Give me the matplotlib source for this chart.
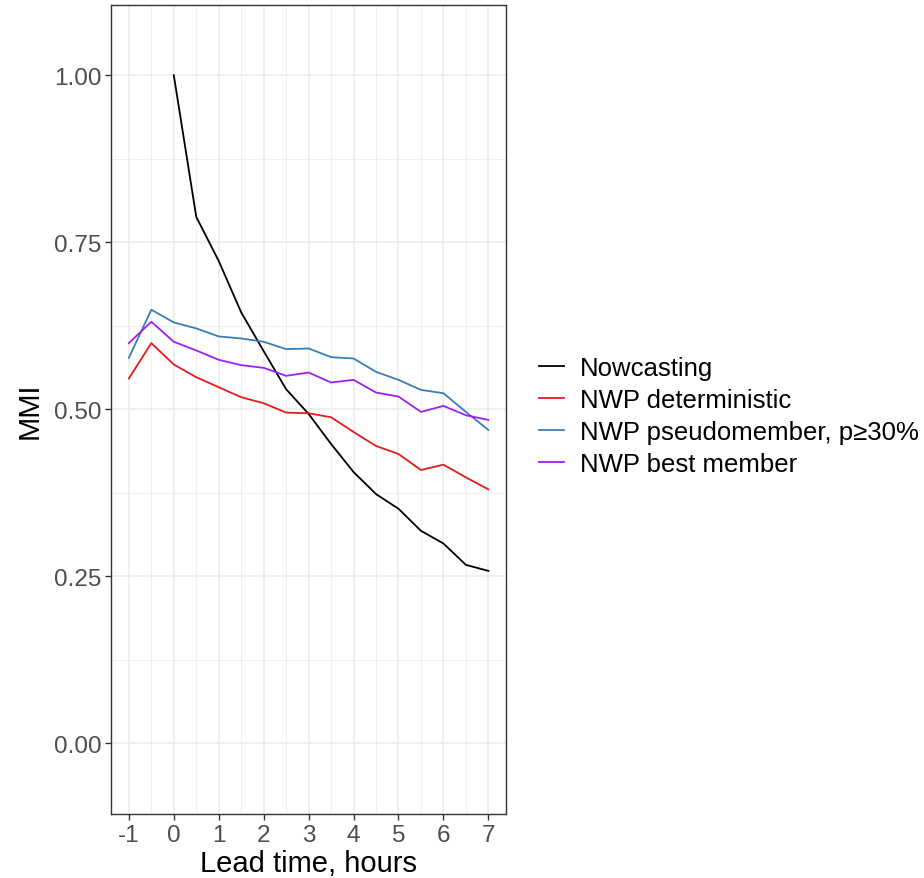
import numpy as np
import matplotlib
matplotlib.use("Agg")
import matplotlib.pyplot as plt
from matplotlib.ticker import MultipleLocator

plt.rcParams['font.family'] = ['Liberation Sans', 'DejaVu Sans']

lead_time = [-1, -0.5, 0, 0.5, 1, 1.5, 2, 2.5, 3, 3.5, 4, 4.5, 5, 5.5, 6, 6.5, 7]

# nowcasting starts at lead time 0
nowcast_time = [0, 0.5, 1, 1.5, 2, 2.5, 3, 3.5, 4, 4.5, 5, 5.5, 6, 6.5, 7]
nowcasting = [1.000, 0.788, 0.722, 0.645, 0.587, 0.530, 0.493, 0.448, 0.406,
              0.373, 0.351, 0.318, 0.299, 0.267, 0.258]

nwp_deterministic = [0.546, 0.599, 0.567, 0.548, 0.533, 0.518, 0.509, 0.495, 0.494,
                     0.488, 0.466, 0.445, 0.433, 0.409, 0.417, 0.398, 0.380]
nwp_pseudomember = [0.577, 0.649, 0.630, 0.621, 0.609, 0.606, 0.601, 0.590, 0.591,
                    0.578, 0.576, 0.556, 0.544, 0.529, 0.524, 0.496, 0.469]
nwp_best = [0.599, 0.631, 0.601, 0.588, 0.574, 0.566, 0.562, 0.550, 0.555,
            0.540, 0.544, 0.525, 0.519, 0.496, 0.505, 0.491, 0.484]

labels = ['Nowcasting', 'NWP deterministic', 'NWP pseudomember, p≥30%', 'NWP best member']
colors = ['black', '#E41A1C', '#377EB8', '#A020F0']

fig = plt.figure(figsize=(9.24, 8.79), dpi=100)
ax = fig.add_axes([0.120, 0.0728, 0.428, 0.9202])

ax.plot(nowcast_time, nowcasting, color=colors[0], lw=1.3, label=labels[0])
ax.plot(lead_time, nwp_deterministic, color=colors[1], lw=1.3, label=labels[1])
ax.plot(lead_time, nwp_pseudomember, color=colors[2], lw=1.3, label=labels[2])
ax.plot(lead_time, nwp_best, color=colors[3], lw=1.3, label=labels[3])

ax.set_xlim(-1.4, 7.4)
ax.set_ylim(-0.106, 1.105)
ax.xaxis.set_major_locator(MultipleLocator(1))
ax.xaxis.set_minor_locator(MultipleLocator(0.5))
ax.yaxis.set_major_locator(MultipleLocator(0.25))
ax.yaxis.set_minor_locator(MultipleLocator(0.125))
ax.yaxis.set_major_formatter(matplotlib.ticker.FormatStrFormatter('%.2f'))
ax.xaxis.set_major_formatter(matplotlib.ticker.FuncFormatter(lambda v, p: '%d' % v))

ax.grid(which='major', color='#EBEBEB', lw=1.1)
ax.grid(which='minor', color='#EBEBEB', lw=0.55)
ax.set_axisbelow(True)
for s in ax.spines.values():
    s.set_color('#333333')
    s.set_linewidth(1.0)
ax.tick_params(which='major', length=4, width=1.0, color='#333333',
               labelsize=17.5, labelcolor='#4D4D4D', pad=3)
ax.tick_params(which='minor', length=0)

ax.set_xlabel('Lead time, hours', fontsize=21, labelpad=2)
ax.set_ylabel('MMI', fontsize=21, labelpad=7)

handles, labs = ax.get_legend_handles_labels()
fig.legend(handles, labs, loc='center left', bbox_to_anchor=(0.583, 0.526),
           frameon=False, fontsize=18.5, handlelength=1.0, handletextpad=0.6,
           labelspacing=0.31, borderpad=0, borderaxespad=0)

fig.savefig('out.png', dpi=100)
